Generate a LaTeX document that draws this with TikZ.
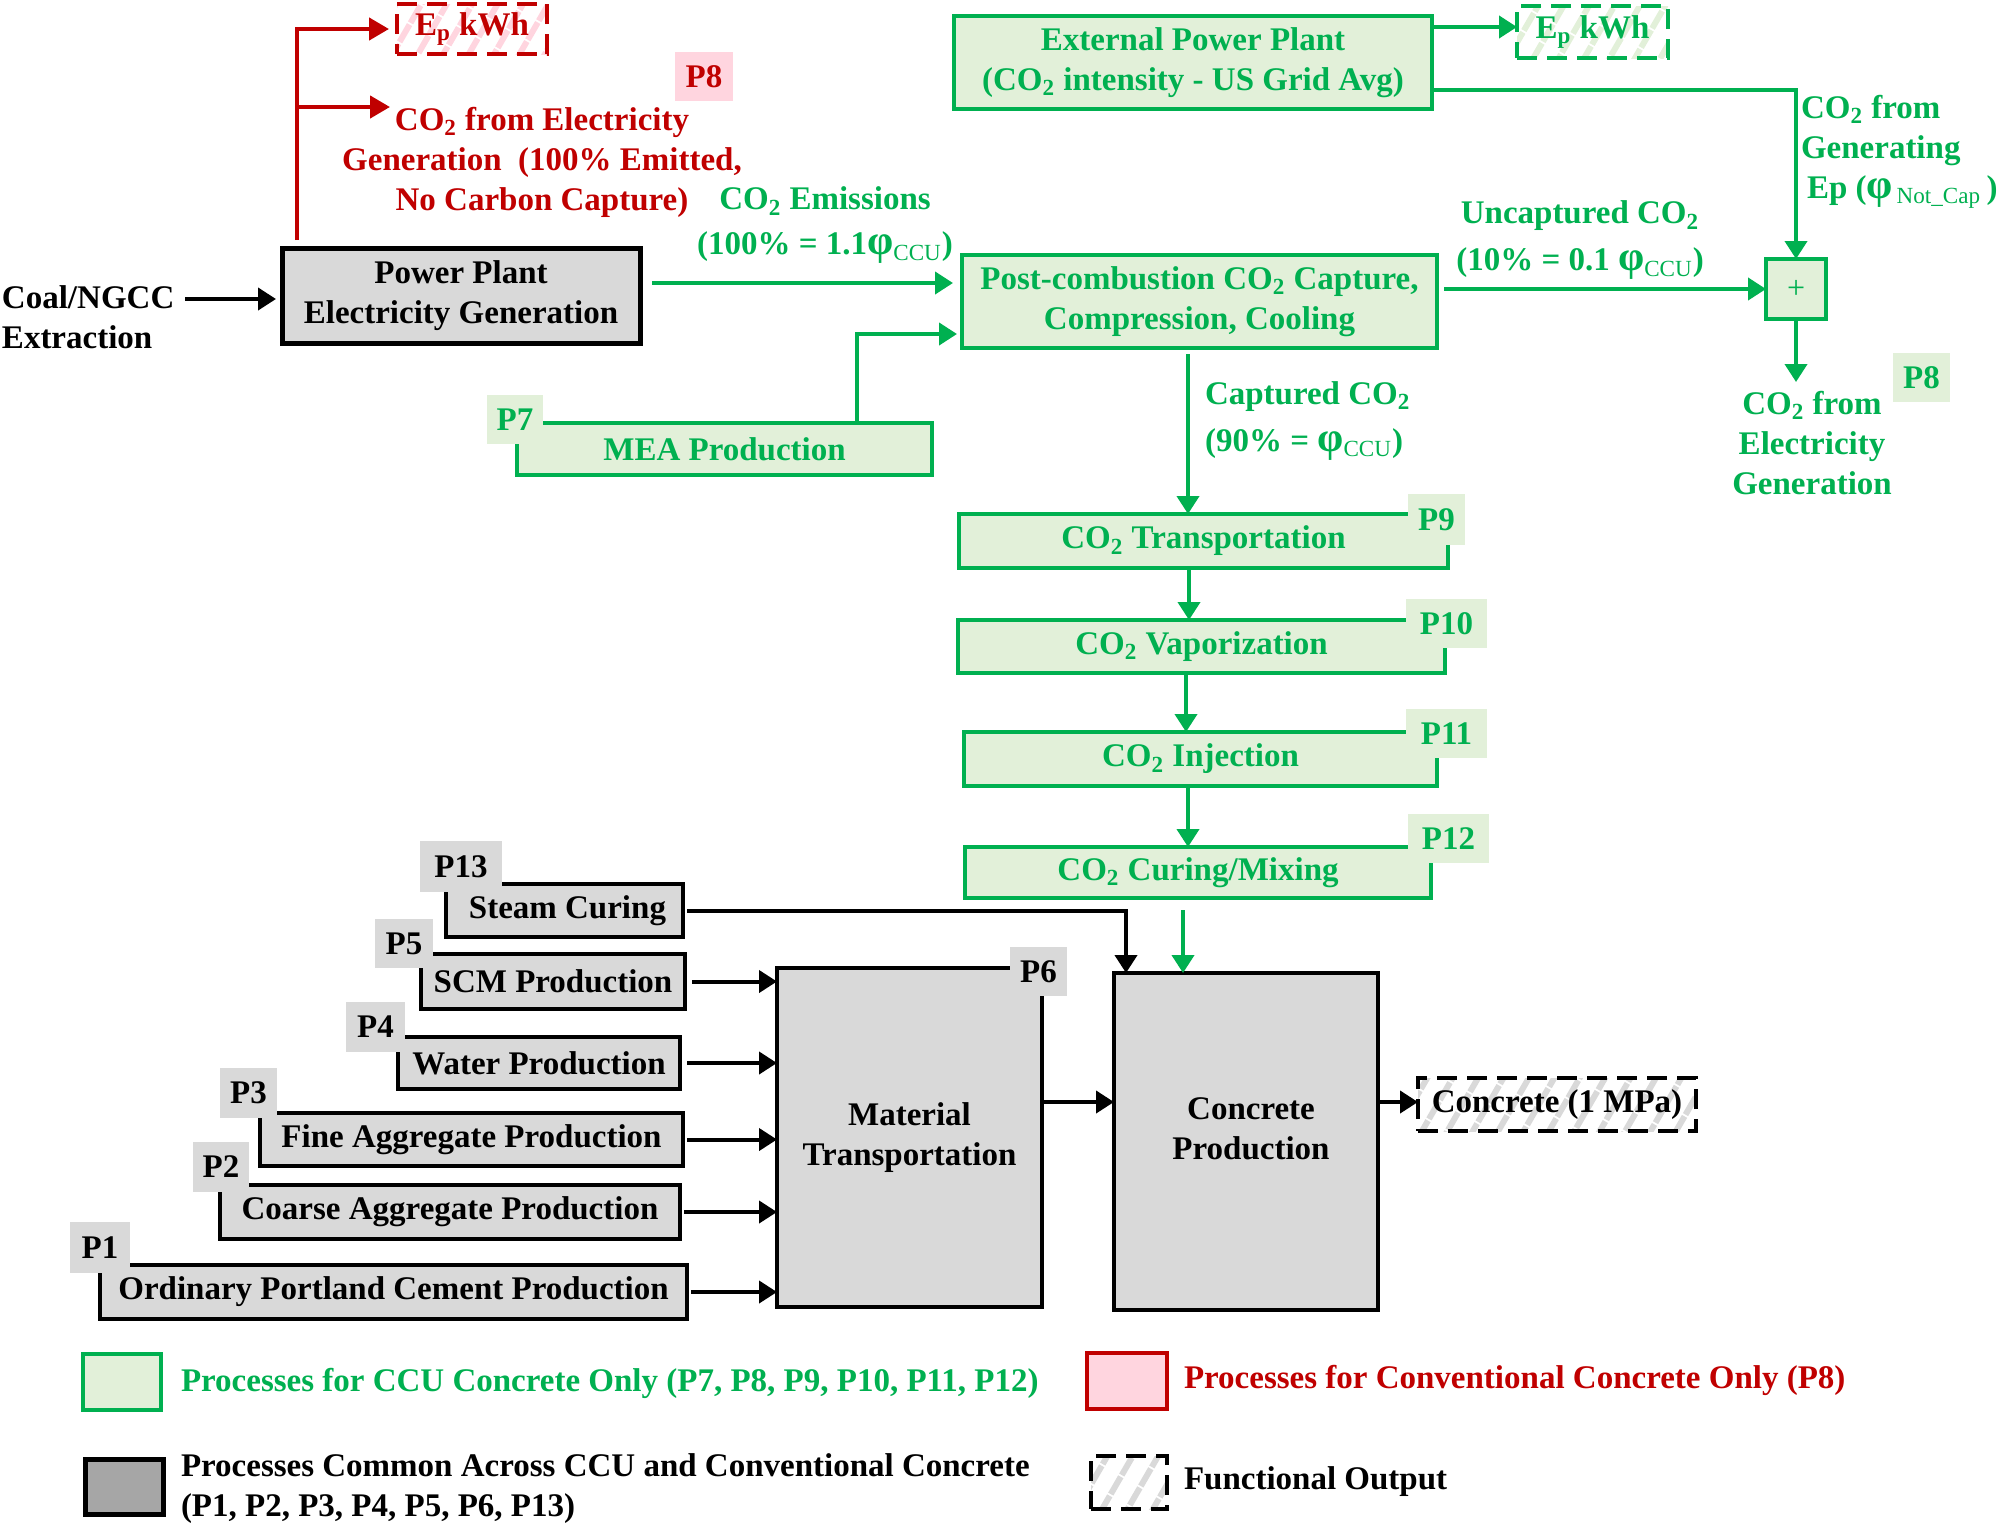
\documentclass[tikz,border=0pt]{standalone}
\usepackage{fontspec}
\setmainfont{Liberation Serif}
\usetikzlibrary{arrows.meta,patterns.meta}
\definecolor{gG}{HTML}{00B050}
\definecolor{gF}{HTML}{E2F0D9}
\definecolor{rR}{HTML}{C00000}
\definecolor{rF}{HTML}{FFD5DF}
\definecolor{kF}{HTML}{D9D9D9}
\definecolor{kL}{HTML}{A6A6A6}
\newcommand\phig{{\fontsize{21}{20}\selectfont φ}}
\tikzset{
 base/.style={font=\bfseries\fontsize{16.5}{20}\selectfont, inner sep=0pt, outer sep=0pt, align=center},
 gbox/.style={base, draw=gG, fill=gF, line width=2.2pt, text=gG},
 kbox/.style={base, draw=black, fill=kF, line width=2pt},
 gtag/.style={base, fill=gF, text=gG},
 ktag/.style={base, fill=kF},
 rtag/.style={base, fill=rF, text=rR},
 gtxt/.style={base, text=gG},
 rtxt/.style={base, text=rR},
 ktxt/.style={base},
 outbase/.style={base, line width=1.8pt, dash pattern=on 10pt off 5pt},
 outK/.style={outbase, draw=black, pattern={Lines[angle=60,distance=11pt,line width=3pt]}, pattern color=kF},
 outR/.style={outbase, draw=rR, text=rR, pattern={Lines[angle=60,distance=11pt,line width=3pt]}, pattern color=rF},
 outG/.style={outbase, draw=gG, text=gG, pattern={Lines[angle=60,distance=11pt,line width=3pt]}, pattern color=gF},
 garr/.style={draw=gG, line width=2pt, -{Triangle[length=9pt,width=11pt]}},
 karr/.style={draw=black, line width=2pt, -{Triangle[length=9pt,width=11pt]}},
 rarr/.style={draw=rR, line width=2.2pt, -{Triangle[length=10pt,width=11pt]}},
}
\begin{document}
\begin{tikzpicture}[x=0.5pt,y=-0.5pt]
\useasboundingbox (0,0) rectangle (2000,1526);

% ---------- top left ----------
\node[kbox, line width=2.5pt, minimum width=179pt, minimum height=47.5pt] (pp) at (461,295.5) {Power Plant\\Electricity Generation};
\node[base, anchor=west, align=left] (coal) at (2,317) {Coal/NGCC\\Extraction};
\draw[karr] ([xshift=5.5pt,yshift=9pt]coal.east) -- ([xshift=-3pt,yshift=-1.75pt]pp.west);

\node[outR, minimum width=75pt, minimum height=25pt] (epR) at (472,29) {E\textsubscript{p} kWh};
\node[rtag, minimum width=29pt, minimum height=24.5pt] (p8r) at (704,76.5) {P8};
\node[rtxt] (co2r) at (542,162) {CO\textsubscript{2} from Electricity\\Generation~~(100\% Emitted,\\No Carbon Capture)};
\draw[rarr] ([xshift=7.5pt,yshift=4pt]pp.north west) |- ([xshift=-4pt]epR.west);
\coordinate (rbr) at (297,107);
\coordinate (rtip) at (390,107);
\draw[rarr] (rbr) -- (rtip);

\node[gtxt] (emi) at (825,225.5) {CO\textsubscript{2} Emissions\\[2.5pt](100\% = 1.1\phig\textsubscript{\mdseries CCU})};

% ---------- top right ----------
\node[gbox, minimum width=239pt, minimum height=46.5pt] (ext) at (1193,62.5) {External Power Plant\\(CO\textsubscript{2} intensity - US Grid Avg)};
\node[outG, minimum width=75.5pt, minimum height=26pt] (epG) at (1592.5,32) {E\textsubscript{p} kWh};
\node[gbox, minimum width=237.5pt, minimum height=46.5pt] (post) at (1199.5,301.5) {Post-combustion CO\textsubscript{2} Capture,\\Compression, Cooling};
\node[gbox, minimum width=30pt, minimum height=30pt, font=\fontsize{16}{16}\selectfont] (plus) at (1796,289) {+};

\node[gtxt] (unc) at (1580,240.5) {Uncaptured CO\textsubscript{2}\\[3.5pt](10\% = 0.1 \phig\textsubscript{\mdseries CCU})};
\node[gtxt, anchor=west, align=left] (genl) at (1801,152) {CO\textsubscript{2} from\\Generating\\\hspace*{3pt}Ep (\phig\textsubscript{\mdseries\,Not\_Cap}\,)};
\node[gtxt] (gel) at (1812,443) {CO\textsubscript{2} from\\Electricity\\Generation};
\node[gtag, minimum width=28.5pt, minimum height=24.5pt] (p8g) at (1921.5,377.5) {P8};
\node[gtxt, anchor=west, align=left] (capl) at (1205,421) {Captured CO\textsubscript{2}\\[3.5pt](90\% = \phig\textsubscript{\mdseries CCU})};

\node[gbox, minimum width=207.5pt, minimum height=26pt] (mea) at (724.5,449) {MEA Production};
\node[gtag, minimum width=28pt, minimum height=24.5pt] (p7) at (515,419.5) {P7};

% ---------- CO2 chain ----------
\node[gbox, minimum width=244.5pt, minimum height=27pt] (p9) at (1203.5,541) {CO\textsubscript{2} Transportation};
\node[gtag, minimum width=28.5pt, minimum height=25.5pt] (p9t) at (1436.5,519.5) {P9};
\node[gbox, minimum width=243.5pt, minimum height=26.5pt] (p10) at (1201.5,646.5) {CO\textsubscript{2} Vaporization};
\node[gtag, minimum width=40.5pt, minimum height=24.5pt] (p10t) at (1446.5,623.5) {P10};
\node[gbox, minimum width=236.5pt, minimum height=27pt] (p11) at (1200.5,759) {CO\textsubscript{2} Injection};
\node[gtag, minimum width=40.5pt, minimum height=24.5pt] (p11t) at (1446.5,733.5) {P11};
\node[gbox, minimum width=233pt, minimum height=25.5pt] (p12) at (1198,872.5) {CO\textsubscript{2} Curing/Mixing};
\node[gtag, minimum width=40.5pt, minimum height=24.5pt] (p12t) at (1448.5,838.5) {P12};

% ---------- lower ----------
\node[kbox, minimum width=132pt, minimum height=168.5pt] (conc) at (1246,1141.5) {};
\node[ktxt] (conct) at (1251,1129) {Concrete\\Production};
\node[kbox, minimum width=132.5pt, minimum height=169.5pt] (p6) at (909.5,1137.5) {Material\\Transportation};
\node[ktag, minimum width=28.5pt, minimum height=24.5pt] (p6t) at (1038.5,971.5) {P6};
\node[outK, minimum width=139pt, minimum height=26.5pt] (out) at (1557,1104.5) {Concrete (1 MPa)};

\node[kbox, minimum width=118.5pt, minimum height=26.5pt] (steam) at (564.5,910.5) {\hspace*{3pt}Steam Curing};
\node[ktag, minimum width=41pt, minimum height=25.5pt] (p13) at (461,866.5) {P13};
\node[kbox, minimum width=132pt, minimum height=27.5pt] (scm) at (553,981.5) {SCM Production};
\node[ktag, minimum width=29pt, minimum height=24.5pt] (p5) at (404,943.5) {P5};
\node[kbox, minimum width=141pt, minimum height=26pt] (water) at (539,1063) {Water Production};
\node[ktag, minimum width=29.5pt, minimum height=25pt] (p4) at (375.5,1027) {P4};
\node[kbox, minimum width=211.5pt, minimum height=26.5pt] (fine) at (471.5,1139.5) {Fine Aggregate Production};
\node[ktag, minimum width=28.5pt, minimum height=25pt] (p3) at (248.5,1093) {P3};
\node[kbox, minimum width=230pt, minimum height=27pt] (coarse) at (450,1212) {Coarse Aggregate Production};
\node[ktag, minimum width=28pt, minimum height=25pt] (p2) at (221,1167) {P2};
\node[kbox, minimum width=293.5pt, minimum height=27pt] (opc) at (393.5,1292) {Ordinary Portland Cement Production};
\node[ktag, minimum width=30pt, minimum height=25.5pt] (p1) at (100,1247.5) {P1};

% ---------- connectors ----------
\draw[garr] ([xshift=6pt,yshift=6.25pt]pp.east) -- ([xshift=-4.5pt,yshift=9.25pt]post.west);
\draw[garr] ([xshift=66.25pt]mea.north) |- ([xshift=-2.5pt,yshift=-16.25pt]post.west);
\draw[garr] ([yshift=17.75pt]ext.east) -- ([yshift=2.5pt]epG.west);
\draw[garr] ([yshift=-13.75pt]ext.east) -| (plus.north);
\draw[garr] ([xshift=3.5pt,yshift=6.25pt]post.east) -- (plus.west);
\coordinate (gtip) at (1796,382);
\draw[garr] (plus.south) -- (gtip);
\coordinate (capS) at ([xshift=-5.75pt,yshift=-3pt]post.south);
\draw[garr] (capS) -- (capS |- p9.north);
\coordinate (a9) at ([xshift=-7.25pt]p9.south);
\draw[garr] (a9) -- (a9 |- p10.north);
\coordinate (a10) at ([xshift=-7.75pt]p10.south);
\draw[garr] (a10) -- (a10 |- p11.north);
\coordinate (a11) at ([xshift=-6.25pt]p11.south);
\draw[garr] (a11) -- (a11 |- p12.north);
\coordinate (a12) at ([xshift=-7.5pt,yshift=-6pt]p12.south);
\draw[garr] (a12) -- (a12 |- conc.north);

\draw[karr] ([xshift=2pt]steam.east) -| ([xshift=-60pt]conc.north);
\draw[karr] ([xshift=3.5pt]scm.east) -- (scm.east -| p6.west);
\draw[karr] ([xshift=3.5pt]water.east) -- (water.east -| p6.west);
\draw[karr] ([xshift=2pt]fine.east) -- (fine.east -| p6.west);
\draw[karr] ([xshift=2pt]coarse.east) -- (coarse.east -| p6.west);
\draw[karr] ([xshift=2pt]opc.east) -- (opc.east -| p6.west);
\coordinate (m1) at ([yshift=17.75pt]p6.east);
\draw[karr] (m1) -- (m1 -| conc.west);
\coordinate (c1) at ([yshift=19.75pt]conc.east);
\draw[karr] (c1) -- (c1 -| out.west);

% ---------- legend ----------
\node[gbox, minimum width=39pt, minimum height=28pt] (lg1) at (122,1382) {};
\node[gtxt, anchor=west] (lg1t) at (181,1383) {Processes for CCU Concrete Only (P7, P8, P9, P10, P11, P12)};
\node[base, draw=rR, fill=rF, line width=2.2pt, minimum width=40pt, minimum height=28pt] (lg2) at (1127,1381) {};
\node[rtxt, anchor=west] (lg2t) at (1184,1380) {Processes for Conventional Concrete Only (P8)};
\node[base, draw=black, fill=kL, line width=2.5pt, minimum width=39pt, minimum height=27.5pt] (lg3) at (124,1486.5) {};
\node[ktxt, anchor=west, align=left] (lg3t) at (181,1489) {Processes Common Across CCU and Conventional Concrete\\(P1, P2, P3, P4, P5, P6, P13)};
\node[outK, minimum width=38pt, minimum height=26.5pt] (lg4) at (1129,1482.5) {};
\node[ktxt, anchor=west] (lg4t) at (1184,1482) {Functional Output};
\end{tikzpicture}
\end{document}
